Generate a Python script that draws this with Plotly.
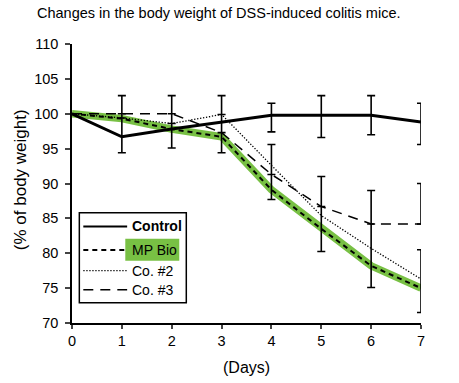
import plotly.graph_objects as go

days = [0, 1, 2, 3, 4, 5, 6, 7]
day_ticks = [0, 1, 2, 3, 4, 5, 6, 7]
y_ticks = [70, 75, 80, 85, 90, 95, 100, 105, 110]

control = [100, 96.7, 97.8, 98.8, 99.8, 99.8, 99.8, 98.8]
control_err_plus = [None, 5.9, 4.8, 3.8, 1.7, 2.8, 2.8, 2.7]
control_err_minus = [None, 2.3, 2.7, 4.4, 2.4, 3.2, 2.8, 3.2]

mp_bio = [100, 99.3, 97.8, 96.7, 89.1, 83.5, 78.2, 75.0]

co2 = [100, 99.4, 98.6, 99.9, 92.6, 85.4, 80.7, 76.3]
co2_err_plus = [None, None, None, None, 3.0, 5.6, 8.3, 4.2]
co2_err_minus = [None, None, None, None, 4.9, 5.15, 5.6, 4.8]

co3 = [100, 100, 100, 97.3, 91.3, 86.7, 84.2, 84.2]
co3_err_plus = [None, None, None, None, None, None, None, 5.8]
co3_err_minus = [None, None, None, None, None, None, None, 0]

names = ["Control", "MP Bio", "Co. #2", "Co. #3"]
GREEN = "#78c044"
FONT = "Liberation Sans, Arial, sans-serif"

def err(plus, minus):
    return dict(type="data", symmetric=False, array=plus, arrayminus=minus,
                color="black", thickness=1.6, width=4, visible=True)

fig = go.Figure()
# green underlay for MP Bio
fig.add_trace(go.Scatter(x=days, y=mp_bio, mode="lines",
                         line=dict(color=GREEN, width=7.5), showlegend=False, hoverinfo="skip"))
fig.add_trace(go.Scatter(x=days, y=mp_bio, mode="lines", name=names[1],
                         line=dict(color="black", width=2, dash="5px,4px"), showlegend=False))
fig.add_trace(go.Scatter(x=days, y=co2, mode="lines", name=names[2],
                         line=dict(color="black", width=1.3, dash="1.3px,1.7px"),
                         error_y=err(co2_err_plus, co2_err_minus), cliponaxis=False, showlegend=False))
fig.add_trace(go.Scatter(x=days, y=co3, mode="lines", name=names[3],
                         line=dict(color="black", width=1.5, dash="10px,7px"),
                         error_y=err(co3_err_plus, co3_err_minus), cliponaxis=False, showlegend=False))
fig.add_trace(go.Scatter(x=days, y=control, mode="lines", name=names[0],
                         line=dict(color="black", width=3),
                         error_y=err(control_err_plus, control_err_minus), cliponaxis=False, showlegend=False))

# manual legend (paper coords)
styles = [dict(color="black", width=2),
          dict(color="black", width=2, dash="5px,4px"),
          dict(color="black", width=1.3, dash="1.3px,1.7px"),
          dict(color="black", width=1.5, dash="10px,7px")]
rows = [0.346, 0.262, 0.188, 0.119]
shapes = [dict(type="rect", xref="paper", yref="paper", x0=0.021, x1=0.3275, y0=0.073, y1=0.395,
               line=dict(color="black", width=1.5), fillcolor="white", layer="above"),
          dict(type="rect", xref="paper", yref="paper", x0=0.1527, x1=0.3074, y0=0.223, y1=0.302,
               line=dict(width=0), fillcolor=GREEN, layer="above")]
annotations = []
for nm, st, ry in zip(names, styles, rows):
    shapes.append(dict(type="line", xref="paper", yref="paper", x0=0.0324, x1=0.158, y0=ry, y1=ry,
                       line=st, layer="above"))
    annotations.append(dict(xref="paper", yref="paper", x=0.166, y=ry, xanchor="left", yanchor="middle",
                            text=("<b>%s</b>" % nm) if nm == "Control" else nm, showarrow=False,
                            font=dict(family=FONT, size=14, color="black")))

annotations.append(dict(xref="paper", yref="paper", x=0.5, y=-0.16, xanchor="center", yanchor="middle",
                        text="(Days)", showarrow=False, font=dict(family=FONT, size=16, color="black")))
annotations.append(dict(xref="paper", yref="paper", x=-0.1453, y=0.513, xanchor="center", yanchor="middle",
                        text="(% of body weight)", textangle=-90, showarrow=False,
                        font=dict(family=FONT, size=17, color="black")))

fig.update_layout(
    width=459, height=383,
    margin=dict(l=72, r=38, t=44, b=60),
    paper_bgcolor="white", plot_bgcolor="white",
    title=dict(text="Changes in the body weight of DSS-induced colitis mice.",
               xref="container", x=37/459, xanchor="left", y=1-13/383, yanchor="middle",
               pad=dict(l=0, r=0, t=0, b=0),
               font=dict(family=FONT, size=14.5, color="black")),
    shapes=shapes, annotations=annotations, showlegend=False,
)
fig.update_xaxes(range=[0, 7], tickvals=day_ticks, ticks="outside", ticklen=4, tickwidth=1.5,
                 showline=True, linecolor="black", linewidth=1.5, showgrid=False, zeroline=False,
                 tickfont=dict(family=FONT, size=14.5, color="black"))
fig.update_yaxes(range=[70, 110], tickvals=y_ticks, ticks="outside", ticklen=5, tickwidth=1.5,
                 showline=True, linecolor="black", linewidth=1.5, showgrid=False, zeroline=False,
                 ticklabelstandoff=4,
                 tickfont=dict(family=FONT, size=14.5, color="black"))

fig.write_html("out.html", config={"displayModeBar": False},
               post_script="document.body.style.margin='0';")
